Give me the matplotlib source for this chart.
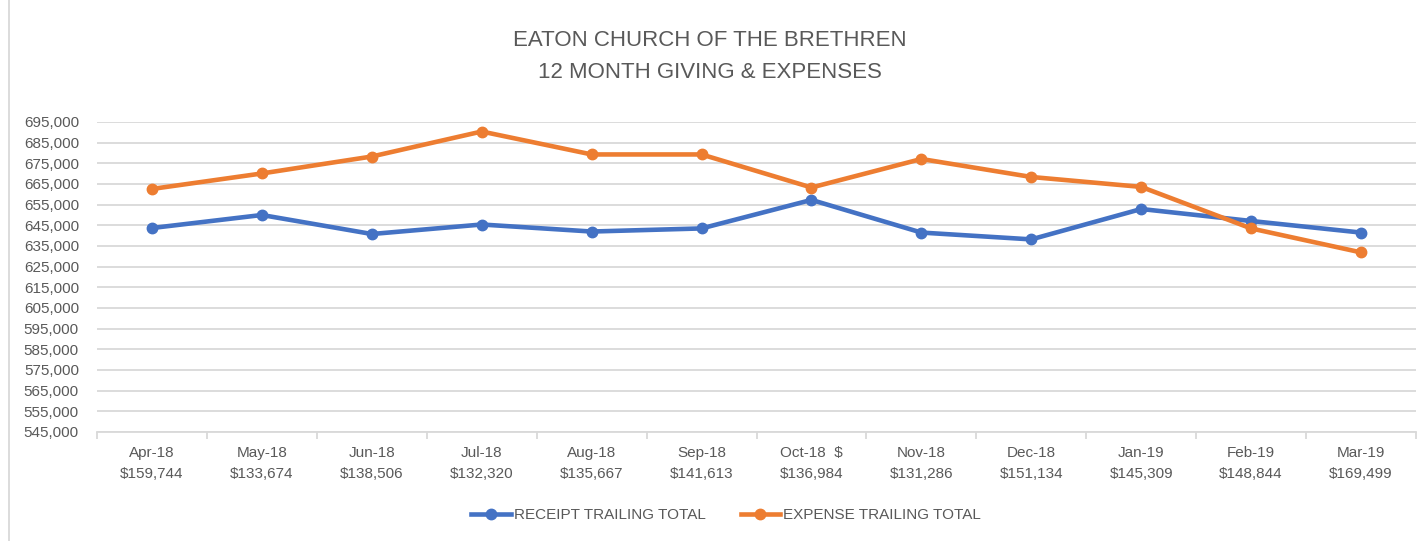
import numpy as np
import matplotlib.pyplot as plt
from matplotlib.lines import Line2D

plt.rcParams['font.family'] = ['Liberation Sans', 'DejaVu Sans']

months = ["Apr-18", "May-18", "Jun-18", "Jul-18", "Aug-18", "Sep-18",
          "Oct-18", "Nov-18", "Dec-18", "Jan-19", "Feb-19", "Mar-19"]
month_amounts = ["$159,744", "$133,674", "$138,506", "$132,320", "$135,667", "$141,613",
                 "$136,984", "$131,286", "$151,134", "$145,309", "$148,844", "$169,499"]
receipt_total = [643700, 650000, 640800, 645400, 642000, 643500,
                 657300, 641500, 638200, 652900, 647100, 641500]
expense_total = [662600, 670100, 678300, 690400, 679300, 679300,
                 663300, 677100, 668400, 663600, 643500, 631900]
y_ticks = list(range(545000, 700000, 10000))

blue = "#4472C4"
orange = "#ED7D31"
text_color = "#595959"
grid_color = "#D9D9D9"

fig = plt.figure(figsize=(14.2, 5.41), dpi=100)
ax = fig.add_axes([97 / 1420, 1 - 432 / 541, 1319 / 1420, 310 / 541])

x = np.arange(len(months))
ax.plot(x, receipt_total, color=blue, linewidth=3.3, marker="o", markersize=7.5,
        label="RECEIPT TRAILING TOTAL", clip_on=False, zorder=3)
ax.plot(x, expense_total, color=orange, linewidth=3.3, marker="o", markersize=7.5,
        label="EXPENSE TRAILING TOTAL", clip_on=False, zorder=3)

ax.set_xlim(-0.5, len(months) - 0.5)
ax.set_ylim(545000, 695000)
ax.set_yticks(y_ticks)
ax.set_yticklabels([f"{v:,}" for v in y_ticks])
ax.yaxis.grid(True, color=grid_color, linewidth=1.3)
ax.set_axisbelow(True)

labels = []
for m, amt in zip(months, month_amounts):
    if m == "Oct-18":
        labels.append(m + "  $\n" + amt)
    else:
        labels.append(m + "\n" + amt)
ax.set_xticks(x)
ax.set_xticklabels(labels, linespacing=1.65)
ax.set_xticks(np.arange(-0.5, len(months), 1), minor=True)
ax.tick_params(axis="x", which="major", length=0, pad=10, labelsize=11, colors=text_color)
ax.tick_params(axis="x", which="minor", length=5, color=grid_color, width=1.3)
ax.tick_params(axis="y", length=0, pad=13, labelsize=11, colors=text_color)

for side in ["top", "right", "left"]:
    ax.spines[side].set_visible(False)
ax.spines["bottom"].set_color(grid_color)
ax.spines["bottom"].set_linewidth(1.3)

fig.text(0.5, 1 - 40 / 541, "EATON CHURCH OF THE BRETHREN", ha="center", va="center",
         fontsize=16, color=text_color)
fig.text(0.5, 1 - 72 / 541, "12 MONTH GIVING & EXPENSES", ha="center", va="center",
         fontsize=16, color=text_color)

# chart area border on the left
fig.add_artist(Line2D([9 / 1420, 9 / 1420], [0, 1], color=grid_color, linewidth=1.3))

fig.legend(loc="center", bbox_to_anchor=(726 / 1420, 1 - 515 / 541), ncol=2,
           frameon=False, fontsize=11, labelcolor=text_color, handlelength=2.6,
           handletextpad=0.2, columnspacing=2.3)

fig.savefig("out.png", dpi=100)
